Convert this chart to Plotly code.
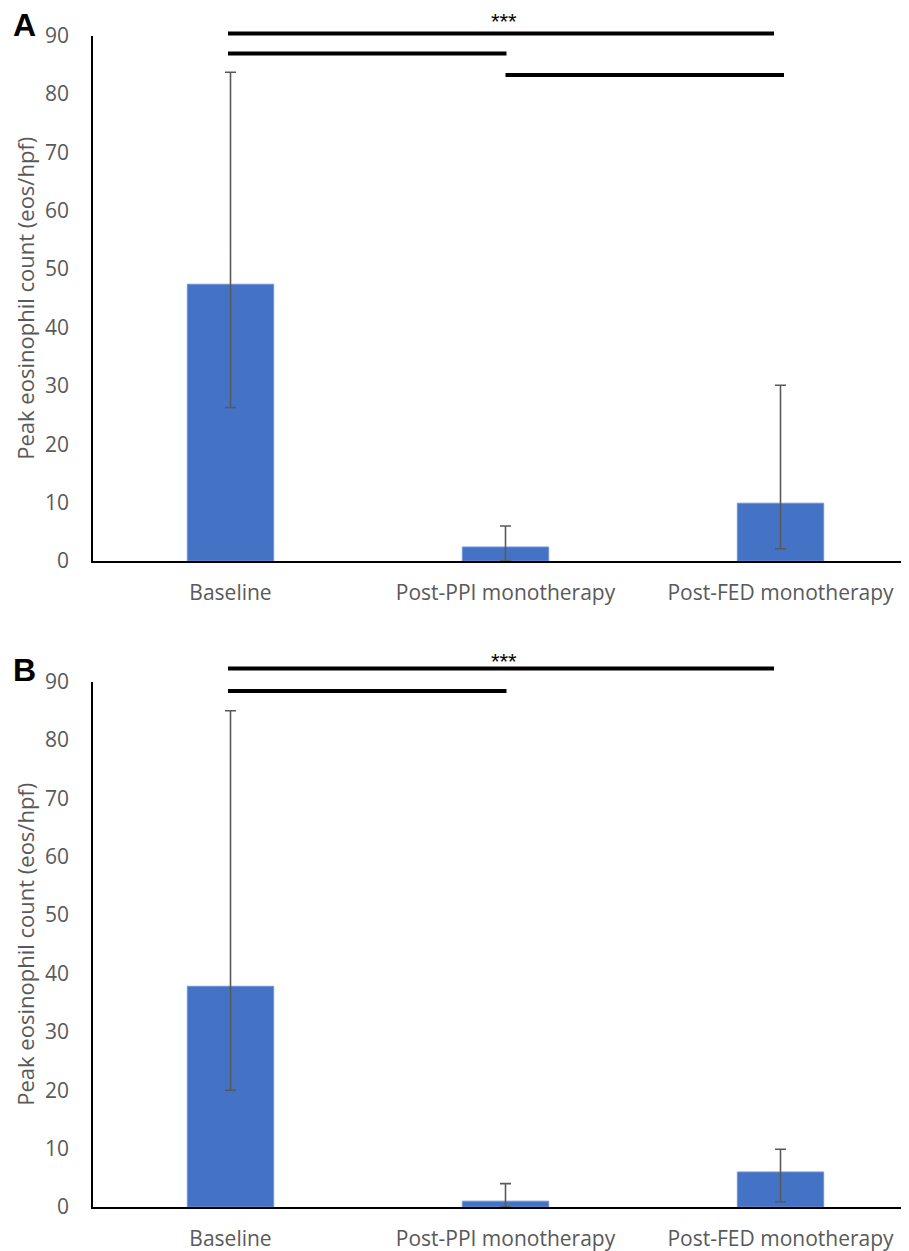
import plotly.graph_objects as go
from plotly.subplots import make_subplots

categories = ["Baseline", "Post-PPI monotherapy", "Post-FED monotherapy"]

# Panel A
a_values = [47.4, 2.4, 9.9]
a_upper = [83.7, 6.0, 30.1]
a_lower = [26.3, 0.0, 2.1]

# Panel B
b_values = [37.8, 1.0, 6.0]
b_upper = [85.0, 4.0, 9.9]
b_lower = [20.0, 0.0, 0.9]

y_ticks = [0, 10, 20, 30, 40, 50, 60, 70, 80, 90]

PAGE_W, PAGE_H = 909, 1251
OFF = 8  # default body margin of the html page
W, H = PAGE_W - OFF, PAGE_H - OFF
BAR = "#4472C4"
GRAY = "#595959"
FONT = "Open Sans"

fig = make_subplots(rows=2, cols=1)

for row, (vals, up, lo) in enumerate([(a_values, a_upper, a_lower),
                                      (b_values, b_upper, b_lower)], start=1):
    fig.add_trace(go.Bar(
        x=categories, y=vals, width=0.314,
        marker=dict(color=BAR, line=dict(color="#6F93D6", width=1)),
        error_y=dict(type="data", symmetric=False,
                     array=[u - v for u, v in zip(up, vals)],
                     arrayminus=[v - l for v, l in zip(vals, lo)],
                     color=GRAY, thickness=1.6, width=5.5),
        showlegend=False,
    ), row=row, col=1)

def py(px):
    return 1 - (px - OFF) / H

def pxf(px):
    return (px - OFF) / W

x_dom = [pxf(93), 1.0]
x_rng = [-0.5, -0.5 + (PAGE_W - 93) / 275]

axis_common_x = dict(
    type="category", range=x_rng, showline=True,
    linecolor="black", linewidth=1.5, showgrid=False, zeroline=False,
    ticks="", tickfont=dict(family=FONT, size=21, color=GRAY),
    ticklabelstandoff=12, automargin=False,
)
axis_common_y = dict(
    range=[0, 90], tickvals=y_ticks, showline=True, linecolor="black",
    linewidth=1.5, showgrid=False, zeroline=False, ticks="",
    tickfont=dict(family=FONT, size=21, color=GRAY), ticklabelstandoff=18,
    automargin=False,
    title=dict(text="Peak eosinophil count (eos/hpf)",
               font=dict(family=FONT, size=22, color=GRAY), standoff=4),
)

fig.update_xaxes(**axis_common_x)
fig.update_yaxes(**axis_common_y)
fig.update_layout(
    xaxis=dict(domain=x_dom),
    xaxis2=dict(domain=x_dom),
    yaxis=dict(domain=[py(561), py(35.5)]),
    yaxis2=dict(domain=[py(1207), py(681.5)]),
)

def sig_line(x0, x1, ypx, xref):
    fig.add_shape(type="line", xref=xref, yref="paper", x0=x0, x1=x1,
                  y0=py(ypx), y1=py(ypx), line=dict(color="black", width=4))

def cx(px):
    return (px - 230.5) / 275

# Panel A brackets
sig_line(cx(228), cx(774), 33.5, "x")
sig_line(cx(228), cx(506.5), 53.5, "x")
sig_line(cx(505.5), cx(784), 75, "x")
# Panel B brackets
sig_line(cx(228), cx(774), 668.5, "x2")
sig_line(cx(228), cx(506.5), 691, "x2")

for ytop in (8, 648):
    fig.add_annotation(x=pxf(504), y=py(ytop), xref="paper", yref="paper",
                       xanchor="center", yanchor="top", borderpad=0,
                       text="***", showarrow=False,
                       font=dict(family="Liberation Sans", size=22, color="black"))

for label, ypx in (("A", 25), ("B", 670)):
    fig.add_annotation(x=pxf(24), y=py(ypx), xref="paper", yref="paper",
                       xanchor="center", yanchor="middle",
                       text=f"<b>{label}</b>", showarrow=False,
                       font=dict(family="Liberation Sans", size=32, color="black"))

fig.update_layout(
    width=W, height=H, margin=dict(l=0, r=0, t=0, b=0, autoexpand=False),
    plot_bgcolor="white", paper_bgcolor="white",
    bargap=0.686,
)

fig.write_html("out.html")
